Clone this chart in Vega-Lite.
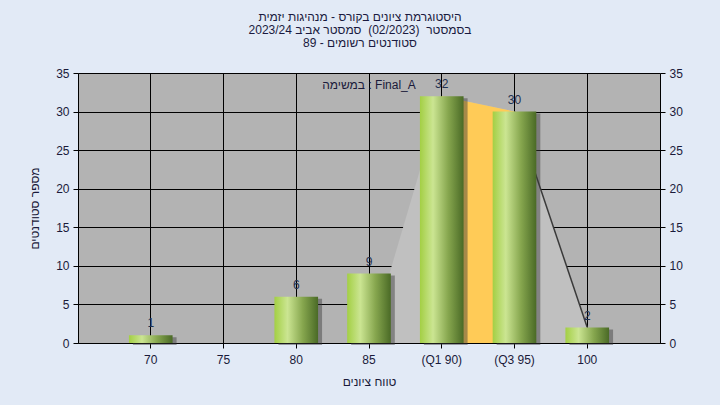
{
  "$schema": "https://vega.github.io/schema/vega-lite/v6.json",
  "width": 582,
  "height": 270,
  "autosize": {"type": "none"},
  "padding": {"left": 78, "top": 73, "right": 60, "bottom": 62},
  "background": "#e2eaf6",
  "config": {
    "font": "Liberation Sans",
    "view": {"fill": "#b3b3b3", "stroke": null},
    "axis": {
      "labelFont": "Liberation Sans",
      "labelFontSize": 12,
      "labelColor": "#1a1a3a",
      "titleFont": "Liberation Sans",
      "titleFontSize": 12,
      "titleFontWeight": "normal",
      "titleColor": "#1a1a3a",
      "domainColor": "#000000",
      "tickColor": "#000000",
      "gridColor": "#000000",
      "gridOpacity": 1,
      "gridWidth": 1,
      "tickSize": 5
    }
  },
  "title": {
    "text": ["היסטוגרמת ציונים בקורס - מנהיגות יזמית", "בסמסטר\u00a0 (02/2023)\u00a0 סמסטר אביב 2023/24", "סטודנטים רשומים - 89"],
    "font": "Liberation Sans",
    "fontSize": 12,
    "fontWeight": "normal",
    "color": "#1a1a40",
    "lineHeight": 13,
    "anchor": "middle",
    "dx": -9,
    "offset": 17
  },
  "datasets": {
    "grades": [
      {"grade": "70", "count": 1},
      {"grade": "75", "count": 0},
      {"grade": "80", "count": 6},
      {"grade": "85", "count": 9},
      {"grade": "(Q1 90)", "count": 32},
      {"grade": "(Q3 95)", "count": 30},
      {"grade": "100", "count": 2}
    ],
    "shape": [
      {"grade": "85", "v": 0},
      {"grade": "(Q1 90)", "v": 32},
      {"grade": "(Q3 95)", "v": 30},
      {"grade": "100", "v": 2}
    ],
    "quartile": [
      {"grade": "(Q1 90)", "v": 32},
      {"grade": "(Q3 95)", "v": 30}
    ],
    "tail": [
      {"grade": "(Q3 95)", "v": 30},
      {"grade": "100", "v": 2}
    ]
  },
  "encoding": {
    "x": {
      "field": "grade",
      "type": "nominal",
      "sort": null,
      "scale": {"domain": ["70", "75", "80", "85", "(Q1 90)", "(Q3 95)", "100"], "paddingInner": 0.4, "paddingOuter": 0.7},
      "axis": {
        "title": "טווח ציונים",
        "labelAngle": 0,
        "labelPadding": 6,
        "grid": true,
        "bandPosition": 0.5,
        "titleY": 38,
        "titleBaseline": "middle"
      }
    }
  },
  "layer": [
    {
      "data": {"name": "shape"},
      "mark": {"type": "area", "color": "#c0c0c0", "opacity": 1},
      "encoding": {
        "x": {"field": "grade", "type": "nominal", "bandPosition": 0.5},
        "y": {
          "field": "v",
          "type": "quantitative",
          "scale": {"domain": [0, 35]},
          "axis": {
            "orient": "left",
            "title": "מספר סטודנטים",
            "values": [0, 5, 10, 15, 20, 25, 30, 35],
            "labelPadding": 4,
            "grid": true,
            "titleX": -44,
            "titleY": 135,
            "titleBaseline": "middle"
          }
        }
      }
    },
    {
      "data": {"name": "quartile"},
      "mark": {"type": "area", "color": "#ffcb57", "opacity": 1},
      "encoding": {
        "x": {"field": "grade", "type": "nominal", "bandPosition": 0.5},
        "y": {"field": "v", "type": "quantitative", "scale": {"domain": [0, 35]}, "axis": null}
      }
    },
    {
      "data": {"name": "tail"},
      "mark": {"type": "line", "color": "#3a3a3a", "strokeWidth": 1.5},
      "encoding": {
        "x": {"field": "grade", "type": "nominal", "bandPosition": 0.5},
        "y": {"field": "v", "type": "quantitative", "scale": {"domain": [0, 35]}, "axis": null}
      }
    },
    {
      "data": {"name": "grades"},
      "mark": {"type": "bar", "color": "#3a3a3a", "opacity": 0.45, "xOffset": 4, "yOffset": 2},
      "encoding": {
        "y": {
          "field": "count",
          "type": "quantitative",
          "scale": {"domain": [0, 35]},
          "axis": {
            "orient": "right",
            "title": null,
            "values": [0, 5, 10, 15, 20, 25, 30, 35],
            "labelPadding": 4,
            "grid": false
          }
        }
      }
    },
    {
      "data": {"name": "grades"},
      "mark": {
        "type": "bar",
        "color": {
          "gradient": "linear",
          "x1": 0, "y1": 0, "x2": 1, "y2": 0,
          "stops": [
            {"offset": 0, "color": "#a3cf44"},
            {"offset": 0.3, "color": "#cbe592"},
            {"offset": 0.65, "color": "#86a64e"},
            {"offset": 1, "color": "#4a6a26"}
          ]
        }
      },
      "encoding": {
        "y": {"field": "count", "type": "quantitative", "scale": {"domain": [0, 35]}, "axis": null}
      }
    },
    {
      "data": {"name": "grades"},
      "transform": [{"filter": "datum.count > 0"}],
      "mark": {"type": "text", "font": "Liberation Sans", "fontSize": 12, "color": "#1f3050", "baseline": "middle", "dy": -12},
      "encoding": {
        "x": {"field": "grade", "type": "nominal", "bandPosition": 0.5},
        "y": {"field": "count", "type": "quantitative", "scale": {"domain": [0, 35]}, "axis": null},
        "text": {"field": "count", "type": "quantitative"}
      }
    },
    {
      "data": {"values": [{"label": "במשימה : Final_A"}]},
      "mark": {"type": "text", "font": "Liberation Sans", "fontSize": 12, "color": "#1a1a3a", "baseline": "middle", "align": "center"},
      "encoding": {
        "x": {"datum": "85", "type": "nominal", "bandPosition": 0.5},
        "y": {"datum": 33.4, "type": "quantitative", "scale": {"domain": [0, 35]}, "axis": null},
        "text": {"field": "label", "type": "nominal"}
      }
    }
  ],
  "resolve": {"axis": {"y": "independent"}}
}
